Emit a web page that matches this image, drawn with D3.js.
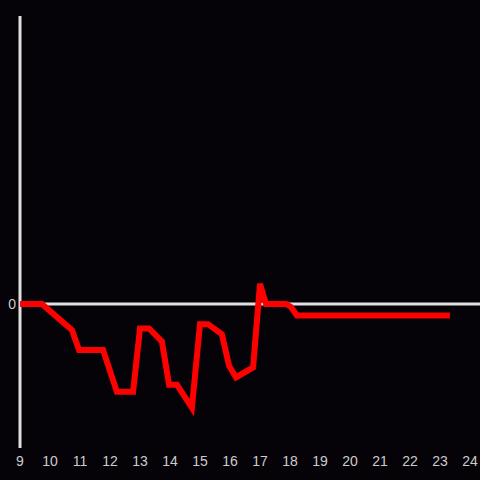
<!DOCTYPE html>
<html>
<head>
<meta charset="utf-8">
<script src="https://cdn.jsdelivr.net/npm/d3@7"></script>
<style>
    html, body { margin: 0; padding: 0; background: #050308; }
    svg { display: block; }
</style>
</head>
<body>
<svg width="480" height="480"></svg>
<script>
// hour of day and value (relative to zero line)
const hours = [9.0, 9.73, 10.73, 10.97, 11.77, 12.23, 12.77, 13.0, 13.3, 13.73, 13.97,
    14.23, 14.73, 15.0, 15.27, 15.73, 15.97, 16.2, 16.77, 17.0, 17.2, 17.87, 18.03, 18.23, 23.33];
const values = [0, 0, -18, -32, -32, -61, -61, -17, -17, -26, -56,
    -56, -72, -14, -14, -21, -43, -51, -44, 14, 0, 0, -2, -8, -8];
const xTicks = [9, 10, 11, 12, 13, 14, 15, 16, 17, 18, 19, 20, 21, 22, 23, 24];
const yTicks = [0];

const svg = d3.select("svg");
const attrArea = { width: 480, height: 480, left: 20, top: 16, bottom: 448 };

const scaleX = d3.scaleLinear().domain([9, 24]).range([20, 470]);
const scaleY = d3.scaleLinear().domain([-100, 200]).range([attrArea.bottom, attrArea.top]);

const axisColor = "#e0e0e0";

// vertical axis line
svg.append("line")
    .attr("x1", attrArea.left).attr("x2", attrArea.left)
    .attr("y1", attrArea.top).attr("y2", attrArea.bottom)
    .attr("stroke", axisColor).attr("stroke-width", 3);

// zero line
svg.selectAll(".zero")
    .data(yTicks)
    .enter()
    .append("line")
    .attr("x1", attrArea.left).attr("x2", attrArea.width)
    .attr("y1", (d) => scaleY(d)).attr("y2", (d) => scaleY(d))
    .attr("stroke", axisColor).attr("stroke-width", 3);

svg.selectAll(".ylabel")
    .data(yTicks)
    .enter()
    .append("text")
    .attr("x", 16)
    .attr("y", (d) => scaleY(d))
    .attr("dy", "0.35em")
    .attr("text-anchor", "end")
    .attr("fill", "#cccccc")
    .style("font", "14px 'Liberation Sans', Arial, sans-serif")
    .text((d) => d);

svg.selectAll(".xlabel")
    .data(xTicks)
    .enter()
    .append("text")
    .attr("x", (d) => scaleX(d))
    .attr("y", 466)
    .attr("text-anchor", "middle")
    .attr("fill", "#cccccc")
    .style("font", "14px 'Liberation Sans', Arial, sans-serif")
    .text((d) => d);

const points = hours.map((h, i) => [h, values[i]]);

const line = d3.line()
    .x((d) => scaleX(d[0]))
    .y((d) => scaleY(d[1]));

svg.append("path")
    .datum(points)
    .attr("d", line)
    .attr("fill", "none")
    .attr("stroke", "#ff0000")
    .attr("stroke-width", 6)
    .attr("stroke-linejoin", "miter")
    .attr("stroke-linecap", "butt");
</script>
</body>
</html>
